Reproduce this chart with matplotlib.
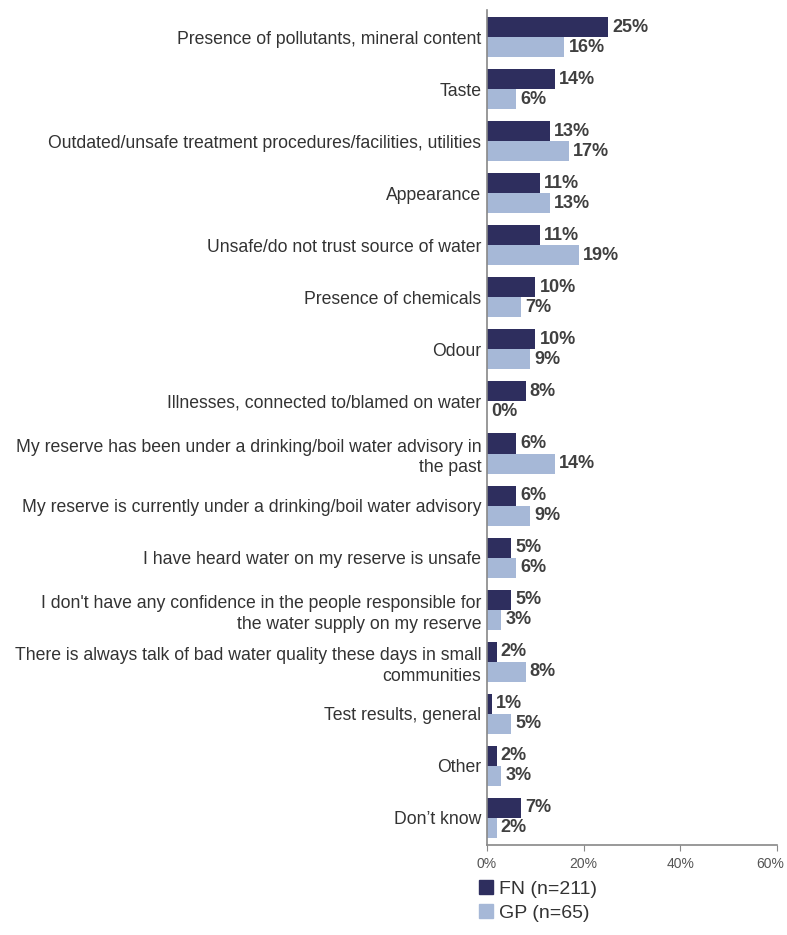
import matplotlib.pyplot as plt
import matplotlib.transforms as mtransforms
import numpy as np
from matplotlib.patches import Patch

plt.rcParams['font.family'] = ['Liberation Sans', 'DejaVu Sans']

# Dados
categories = [
    "Presence of pollutants, mineral content",
    "Taste",
    "Outdated/unsafe treatment procedures/facilities, utilities",
    "Appearance",
    "Unsafe/do not trust source of water",
    "Presence of chemicals",
    "Odour",
    "Illnesses, connected to/blamed on water",
    "My reserve has been under a drinking/boil water advisory in\nthe past",
    "My reserve is currently under a drinking/boil water advisory",
    "I have heard water on my reserve is unsafe",
    "I don't have any confidence in the people responsible for\nthe water supply on my reserve",
    "There is always talk of bad water quality these days in small\ncommunities",
    "Test results, general",
    "Other",
    "Don\u2019t know",
]
fn_values = [25, 14, 13, 11, 11, 10, 10, 8, 6, 6, 5, 5, 2, 1, 2, 7]
gp_values = [16, 6, 17, 13, 19, 7, 9, 0, 14, 9, 6, 3, 8, 5, 3, 2]
series_labels = ["FN (n=211)", "GP (n=65)"]
xticks = [0, 20, 40, 60]

fn_color = '#2e2e5e'
gp_color = '#a6b8d7'
txt_color = '#333333'

fig = plt.figure(figsize=(7.87, 9.35), dpi=100)
ax = fig.add_axes([0.6188, 0.0963, 0.3685, 0.893])

y = np.arange(len(categories))
h = 0.385
ax.barh(y - h / 2, fn_values, height=h, color=fn_color)
ax.barh(y + h / 2, gp_values, height=h, color=gp_color)

for yi, v in zip(y, fn_values):
    ax.annotate(f"{v}%", (v, yi - h / 2), xytext=(3, 0), textcoords='offset points',
                va='center', ha='left', fontsize=13, fontweight='bold', color='#404040')
for yi, v in zip(y, gp_values):
    ax.annotate(f"{v}%", (v, yi + h / 2), xytext=(3, 0), textcoords='offset points',
                va='center', ha='left', fontsize=13, fontweight='bold', color='#404040')

ax.set_xlim(0, 60)
ax.set_ylim(len(categories) - 1 + 0.52, -0.52)
ax.set_yticks(y)
ax.set_yticklabels(categories, fontsize=12.7, color=txt_color, ha='right',
                   linespacing=1.3)
ax.tick_params(axis='y', length=0, pad=4)
ax.set_xticks(xticks)
ax.set_xticklabels([f"{t}%" for t in xticks], fontsize=10, color='#555555')
ax.tick_params(axis='x', length=4, color='#888888', pad=5)

# dernier label un peu à gauche pour ne pas être coupé
last = ax.get_xticklabels()[-1]
last.set_transform(last.get_transform() +
                   mtransforms.ScaledTranslation(-5 / 72, 0, fig.dpi_scale_trans))

for s in ['top', 'right']:
    ax.spines[s].set_visible(False)
for s in ['left', 'bottom']:
    ax.spines[s].set_color('#888888')
    ax.spines[s].set_linewidth(1.2)

handles = [Patch(color=fn_color), Patch(color=gp_color)]
fig.legend(handles, series_labels, loc='upper left', bbox_to_anchor=(0.609, 0.059),
           frameon=False, fontsize=14, handlelength=0.72, handleheight=0.72,
           handletextpad=0.3, labelspacing=0.35, borderpad=0, borderaxespad=0,
           labelcolor=txt_color)

fig.savefig('out.png', dpi=100)
